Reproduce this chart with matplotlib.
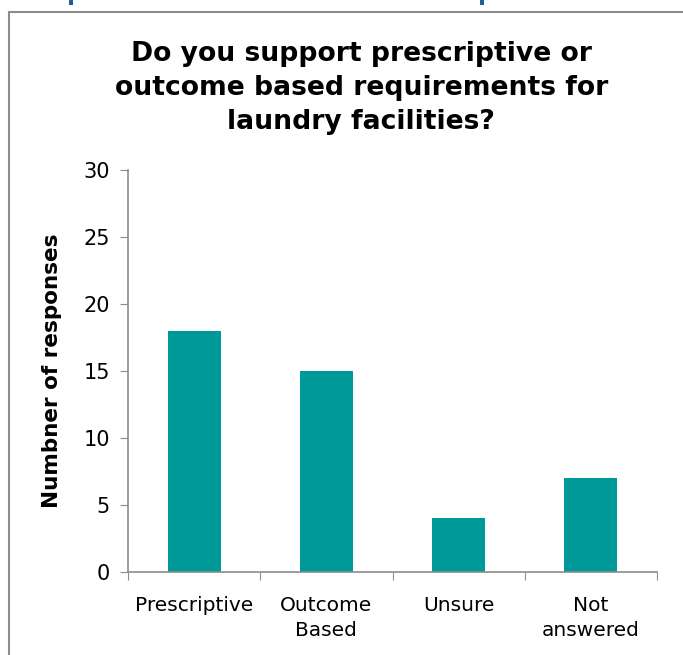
import matplotlib
matplotlib.use('Agg')
import matplotlib.pyplot as plt
from matplotlib.patches import Rectangle

categories = ['Prescriptive', 'Outcome\nBased', 'Unsure', 'Not\nanswered']
responses = [18, 15, 4, 7]
yticks = [0, 5, 10, 15, 20, 25, 30]

plt.rcParams['font.family'] = ['DejaVu Sans']

fig = plt.figure(figsize=(6.83, 6.55), dpi=100)
# chart frame (cut off at right and bottom)
fig.patches.append(Rectangle((8.5/683, -0.1), 1.2, 1 - 12.5/655 + 0.1,
                             transform=fig.transFigure, fill=False,
                             edgecolor='#8c8c8c', linewidth=1.5))
# bits of the slide heading that stick out above the chart
for xl in [69/683, 480/683]:
    fig.patches.append(Rectangle((xl, 1 - 4.5/655), 4/683, 4.5/655,
                                 transform=fig.transFigure, color='#1f5f9f',
                                 linewidth=0))

ax = fig.add_axes([128/683, 1 - 572/655, (657 - 128)/683, (572 - 170)/655])
x = range(len(categories))
ax.bar(x, responses, width=0.4, color='#009999')
ax.set_xlim(-0.5, len(categories) - 0.5)
ax.set_ylim(0, 30)
ax.set_yticks(yticks)
ax.set_xticks([i - 0.5 for i in range(len(categories) + 1)])
ax.set_xticklabels([])
ax.set_xticks(list(x), minor=True)
ax.set_xticklabels(categories, minor=True, fontsize=14.5, linespacing=1.4)
ax.tick_params(axis='x', which='minor', length=0, pad=17)
ax.tick_params(axis='x', which='major', length=6, direction='out', color='#8c8c8c')
ax.tick_params(axis='y', length=6, direction='out', color='#8c8c8c', labelsize=15, pad=7)
for s in ['top', 'right']:
    ax.spines[s].set_visible(False)
for s in ['left', 'bottom']:
    ax.spines[s].set_color('#8c8c8c')
    ax.spines[s].set_linewidth(1.2)
ax.set_ylabel('Numbner of responses', fontsize=15.5, fontweight='bold')
ax.yaxis.set_label_coords((62 - 128)/(657 - 128), 0.5)

fig.text(0.529, 0.866, 'Do you support prescriptive or\noutcome based requirements for\nlaundry facilities?',
         ha='center', va='center', fontsize=19.2, fontweight='bold', linespacing=1.4)

plt.savefig('out.png', dpi=100)
